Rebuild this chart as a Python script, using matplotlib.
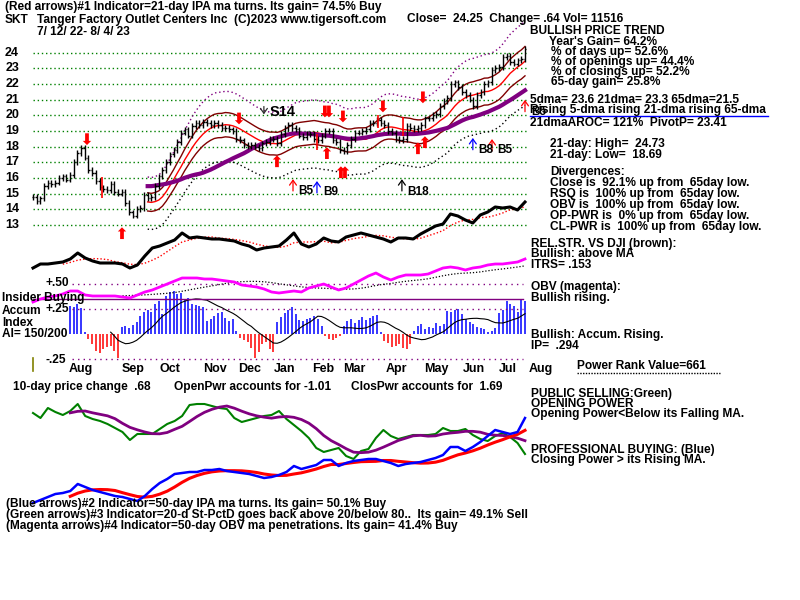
import numpy as np
import pandas as pd
import matplotlib
matplotlib.use("Agg")
import matplotlib.pyplot as plt
from matplotlib.lines import Line2D

nan = np.nan

# SKT closes, one every ~2 trading days, 7/12/22 - 8/4/23
close = [
    14.77, 14.5, 14.7, 15.5, 15.7, 15.6, 15.7, 16.0, 16.1, 15.9,
    16.2, 17.0, 17.6, 17.9, 17.3, 16.5, 16.3, 15.8, 15.4, 15.3,
    15.2, 15.6, 15.1, 15.0, 15.1, 14.4, 13.8, 13.6, 14.0, 14.1,
    14.9, 14.7, 14.8, 15.5, 16.1, 16.5, 17.0, 17.5, 17.8, 18.3,
    18.9, 19.1, 18.7, 19.3, 19.5, 19.4, 19.6, 19.5, 19.4, 19.5,
    19.4, 19.2, 19.2, 19.1, 19.0, 18.5, 18.4, 18.1, 18.0, 18.1,
    18.0, 17.9, 18.2, 18.3, 18.5, 18.5, 18.2, 18.8, 19.2, 19.4,
    19.2, 19.1, 18.7, 18.6, 18.8, 18.8, 18.5, 18.4, 18.7, 19.0,
    19.0, 18.4, 18.3, 17.8, 17.7, 18.1, 18.5, 18.9, 18.9, 19.0,
    19.1, 19.5, 19.5, 19.7, 19.5, 19.4, 19.0, 18.9, 18.5, 18.4,
    18.5, 19.3, 19.2, 19.1, 19.2, 19.4, 19.8, 19.8, 20.0, 20.1,
    20.6, 20.9, 21.1, 22.0, 22.1, 21.8, 21.5, 21.3, 21.0, 20.6,
    21.3, 21.5, 22.0, 22.1, 22.9, 23.0, 23.1, 23.7, 23.8, 23.4,
    23.3, 23.5, 23.6, 24.25,
]

# accumulation index, same spacing as close
ai = [
    nan, nan, nan, nan, nan, nan, nan, nan, nan, nan,
    0.28, 0.27, 0.30, 0.26, 0.02, -0.05, -0.10, -0.17, -0.19, -0.15,
    -0.13, -0.12, -0.17, -0.24, 0.07, 0.08, 0.06, 0.09, 0.12, 0.18,
    0.22, 0.24, 0.22, 0.30, 0.33, 0.20, 0.38, 0.42, 0.43, 0.40,
    0.41, 0.35, 0.36, 0.30, 0.29, 0.28, 0.27, 0.13, 0.15, 0.18,
    0.21, 0.22, 0.16, 0.13, 0.15, 0.03, -0.04, -0.06, -0.08, -0.14,
    -0.24, -0.18, -0.10, -0.08, -0.15, -0.18, 0.12, 0.17, 0.21, 0.24,
    0.27, 0.20, 0.14, 0.13, 0.15, 0.16, 0.18, 0.15, 0.08, -0.02,
    -0.05, -0.06, -0.04, -0.02, 0.08, 0.13, 0.15, 0.11, 0.14, 0.17,
    0.14, 0.16, 0.18, 0.19, 0.02, -0.07, -0.09, -0.13, -0.12, -0.10,
    -0.14, -0.15, -0.10, 0.03, 0.08, 0.10, 0.05, 0.07, 0.06, 0.11,
    0.08, 0.10, 0.23, 0.22, 0.24, 0.25, 0.20, 0.15, 0.12, 0.10,
    0.07, 0.06, 0.05, 0.02, 0.03, 0.06, 0.21, 0.24, 0.33, 0.30,
    0.28, 0.22, 0.34, 0.33,
]

# weekly-ish indicator lines (one every ~4 trading days), chart units
rel_str = [
    12, 16, 16, 17, 18, 21, 27, 22, 19, 17, 17, 17, 16, 12, 15, 24, 32, 34, 37, 40,
    47, 42, 43, 42, 41, 41, 40, 39, 36, 34, 30, 32, 33, 34, 40, 47, 36, 33, 36, 42,
    39, 38, 43, 45, 47, 45, 43, 41, 38, 42, 42, 41, 46, 50, 54, 56, 66, 64, 60, 57,
    65, 68, 73, 72, 73, 70, 78,
]
obv = [
    8, 11, 13, 14, 16, 19, 19, 15, 14, 14, 14, 14, 13, 12, 15, 18, 20, 23, 26, 29,
    32, 32, 32, 31, 31, 30, 29, 28, 25, 24, 23, 21, 18, 17, 18, 19, 18, 22, 24, 26,
    23, 20, 22, 26, 30, 34, 37, 33, 30, 33, 35, 35, 35, 36, 39, 42, 43, 42, 40, 42,
    43, 45, 46, 46, 47, 48, 51,
]
open_power = [
    107, 102, 112, 108, 105, 109, 116, 104, 101, 99, 96, 92, 88, 80, 86, 86, 86, 91, 96, 99,
    104, 115, 116, 116, 114, 112, 111, 102, 98, 100, 102, 104, 105, 109, 101, 95, 89, 82, 72, 68,
    70, 72, 64, 61, 69, 71, 82, 90, 84, 81, 83, 85, 85, 85, 86, 92, 89, 89, 91, 85,
    81, 79, 84, 87, 83, 77, 66,
]
close_power = [
    17, 20, 23, 26, 27, 29, 36, 33, 30, 28, 26, 24, 23, 21, 19, 24, 31, 37, 41, 46,
    47, 48, 48, 50, 50, 51, 49, 48, 47, 46, 44, 42, 43, 45, 48, 54, 51, 53, 55, 60,
    60, 54, 57, 59, 60, 61, 61, 59, 57, 54, 56, 57, 58, 60, 62, 65, 73, 73, 69, 73,
    78, 84, 90, 88, 86, 88, 102,
]

last_day = 267
months = ["Aug", "Sep", "Oct", "Nov", "Dec", "Jan", "Feb", "Mar", "Apr", "May", "Jun", "Jul", "Aug"]
month_label_day = [19.5, 48.3, 68.4, 92.3, 111.2, 130.8, 151.4, 168.2, 191.5, 212.1, 233.2, 252.8, 269.1]

# signals (trading day, price at arrow tip)
sell_days = [29.3, 111.8, 158.4, 160.6, 168.2, 189.9, 211.6]
sell_tips = [18.1, 19.42, 19.87, 19.87, 19.55, 20.19, 20.77]
buy_days = [48.3, 132.4, 159.5, 167.1, 169.3, 208.9, 212.7]
buy_tips = [12.85, 17.44, 17.96, 16.74, 16.74, 18.27, 18.66]
mark_days = [37.4, 154.1, 187.2, 200.8]
mark_top = [16.04, 18.8, 20.0, 19.9]
mark_bot = [14.7, 17.8, 19.2, 18.7]
tag_days = [125.3, 141.1, 154.1, 200.2, 238.7, 249.1, 267.0]
tag_tips = [20.06, 15.92, 15.8, 15.92, 18.55, 18.48, 20.98]
tag_up = [False, True, True, True, True, True, True]
tag_colors = ["#303030", "red", "blue", "black", "blue", "red", "red"]

FONT = "Liberation Sans"
FS = 8.6

W, H = 800, 600
fig = plt.figure(figsize=(8, 6), dpi=100)
fig.patch.set_facecolor("white")

XL = (-3 / 1.843, last_day + 3 / 1.843)


def box(y0, y1, ylim, x0=30, x1=528):
    ax = fig.add_axes([x0 / W, 1 - y1 / H, (x1 - x0) / W, (y1 - y0) / H])
    ax.set_xlim(*XL)
    ax.set_ylim(*ylim)
    ax.set_axis_off()
    ax.patch.set_alpha(0)
    return ax


def txt(x, y, s, size=FS, color="black"):
    fig.text(x / W, 1 - (y - 2) / H, s, fontsize=size, fontweight="bold",
             family=FONT, color=color, va="top", ha="left")


def hline_px(x0, x1, y, **kw):
    fig.add_artist(Line2D([x0 / W, x1 / W], [1 - y / H, 1 - y / H], **kw))


d_px = np.linspace(0, last_day, len(close))
d_wk = np.linspace(0, last_day, len(rel_str))

# ---------------- price panel ----------------
ax = box(15, 240, (12.04, 26.40))
for p in range(13, 25):
    ax.axhline(p, xmin=3 / 498, xmax=1, color="#008000", ls=(0, (1, 2)), lw=1)
    ax.text(-0.022, p, str(p), transform=ax.get_yaxis_transform(), ha="right", va="center",
            fontsize=9, fontweight="bold", family=FONT)

c = pd.Series(close)
ma21 = c.rolling(10).mean()
ma65 = c.rolling(32).mean()
ma21[:31] = nan
ax.plot(d_px, ma21 * 1.11, color="#800080", ls=(0, (1, 2)), lw=1)
ax.plot(d_px, ma21 * 0.88, color="black", ls=(0, (1, 2)), lw=1)
ax.plot(d_px, ma21 * 1.04, color="#800000", lw=1)
ax.plot(d_px, ma21 * 0.96, color="#800000", lw=1)
ax.plot(d_px, ma21, color="red", lw=1)
ax.plot(d_px, ma65, color="#800080", lw=3)

o = np.r_[close[0], close[:-1]]
cl = np.array(close)
hi = np.maximum(o, cl) + 0.18
lo = np.minimum(o, cl) - 0.18
ax.vlines(d_px, lo, hi, color="black", lw=1)
ax.hlines(o, d_px - 0.8, d_px, color="black", lw=1)
ax.hlines(cl, d_px, d_px + 0.8, color="black", lw=1)

big = "simple,head_length=0.5,head_width=1.0,tail_width=0.45"
for x, t in zip(sell_days, sell_tips):
    ax.annotate("", xy=(x, t), xytext=(x, t + 0.75),
                arrowprops=dict(arrowstyle=big, color="red", lw=0, shrinkA=0, shrinkB=0, mutation_scale=6))
for x, t in zip(buy_days, buy_tips):
    ax.annotate("", xy=(x, t), xytext=(x, t - 0.75),
                arrowprops=dict(arrowstyle=big, color="red", lw=0, shrinkA=0, shrinkB=0, mutation_scale=6))
ax.vlines(mark_days, mark_bot, mark_top, color="red", lw=1.2)
for x, t, up, col in zip(tag_days, tag_tips, tag_up, tag_colors):
    tail = t - 0.75 if up else t + 0.5
    ax.annotate("", xy=(x, t), xytext=(x, tail),
                arrowprops=dict(arrowstyle="->,head_length=0.35,head_width=0.25", color=col, lw=0.9,
                                shrinkA=0, shrinkB=0, mutation_scale=10))

# relative strength vs DJI
ax_rs = box(190, 280, (0, 90))
rs = pd.Series(rel_str, dtype=float)
ax_rs.plot(d_wk, rs.rolling(5).mean(), color="red", ls=(0, (1, 1.5)), lw=1)
ax_rs.plot(d_wk, rs, color="black", lw=2.2)

# ---------------- accumulation index / OBV ----------------
ax_ai = box(250, 362, (-0.277, 0.832))
a = np.array(ai)
pos = np.where(a > 0, a, nan)
neg = np.where(a < 0, a, nan)
ax_ai.vlines(d_px, 0, pos, color="blue", lw=1.1)
ax_ai.vlines(d_px, neg, 0, color="red", lw=1.1)
ax_ai.plot(d_px, pd.Series(ai).rolling(12).mean(), color="black", lw=0.8)
for v in (0.5, 0.25, -0.25):
    ax_ai.axhline(v, xmin=42 / 498, xmax=0.99, color="#800080", ls=(0, (1, 3)), lw=1)
ax_ai.axhline(0.35, xmin=3 / 498, xmax=0.99, color="#800080", lw=1)
ax_ai.plot([-0.2, -0.2], [-0.238, -0.366], color="#808000", lw=1.2, clip_on=False)
for m, dd in zip(months, month_label_day):
    ax_ai.text(dd, -0.01, m, transform=ax_ai.get_xaxis_transform(), ha="left", va="top",
               fontsize=9, fontweight="bold", family=FONT)

ax_obv = box(250, 362, (-52, 60))
ob = pd.Series(obv, dtype=float)
ax_obv.plot(d_wk, ob.rolling(13).mean(), color="black", ls=(0, (1, 1.5)), lw=0.9)
ax_obv.plot(d_wk, ob, color="#ff00ff", lw=2)

# ---------------- opening / closing power ----------------
ax_pw = box(380, 515, (5, 140))
op = pd.Series(open_power, dtype=float)
cp = pd.Series(close_power, dtype=float)
ax_pw.plot(d_wk, op, color="#008000", lw=1.5)
ax_pw.plot(d_wk, op.rolling(6).mean(), color="#800080", lw=2)
ax_pw.plot(d_wk, cp.rolling(6).mean(), color="red", lw=2.2)
ax_pw.plot(d_wk, cp, color="blue", lw=1.8)

# ---------------- text ----------------
txt(5, 3, "(Red arrows)#1 Indicator=21-day IPA ma turns. Its gain= 74.5% Buy")
txt(5, 16, "SKT")
txt(37, 16, "Tanger Factory Outlet Centers Inc  (C)2023 www.tigersoft.com")
txt(37, 28, "7/ 12/ 22- 8/ 4/ 23")
txt(407, 15, "Close=  24.25  Change= .64 Vol= 11516")

txt(270, 107, "S14", size=10.5)
txt(298, 187, "B5", size=8.5)
txt(323, 188, "B9", size=8.5)
txt(407, 188, "B18", size=8.5)
txt(478, 146, "B8", size=8.5)
txt(497, 146, "B5", size=8.5)
txt(531, 108, "B5", size=8.5)

right = [
    (530, 27, "BULLISH PRICE TREND"),
    (549, 38, "Year's Gain= 64.2%"),
    (551, 48, "% of days up= 52.6%"),
    (551, 58, "% of openings up= 44.4%"),
    (551, 68, "% of closings up= 52.2%"),
    (551, 78, "65-day gain= 25.8%"),
    (530, 96, "5dma= 23.6 21dma= 23.3 65dma=21.5"),
    (530, 106, "Rising 5-dma rising 21-dma rising 65-dma"),
    (530, 119, "21dmaAROC= 121%  PivotP= 23.41"),
    (550, 140, "21-day: High=  24.73"),
    (550, 151, "21-day: Low=  18.69"),
    (550, 168, "Divergences:"),
    (550, 179, "Close is  92.1% up from  65day low."),
    (550, 190, "RSQ is  100% up from  65day low."),
    (550, 201, "OBV is  100% up from  65day low."),
    (550, 212, "OP-PWR is  0% up from  65day low."),
    (550, 223, "CL-PWR is  100% up from  65day low."),
    (531, 240, "REL.STR. VS DJI (brown):"),
    (531, 250, "Bullish: above MA"),
    (531, 261, "ITRS= .153"),
    (531, 283, "OBV (magenta):"),
    (531, 294, "Bullish rising."),
    (531, 331, "Bullish: Accum. Rising."),
    (531, 342, "IP=  .294"),
    (577, 362, "Power Rank Value=661"),
    (531, 390, "PUBLIC SELLING:Green)"),
    (531, 400, "OPENING POWER"),
    (531, 410, "Opening Power<Below its Falling MA."),
    (531, 446, "PROFESSIONAL BUYING: (Blue)"),
    (531, 456, "Closing Power > its Rising MA."),
]
for x, y, s in right:
    txt(x, y, s)
hline_px(530, 768, 115.5, color="blue", lw=1)
hline_px(577, 720, 373, color="black", lw=1, ls=(0, (1, 1)))

txt(46, 279, "+.50")
txt(2, 294, "Insider Buying")
txt(46, 305, "+.25")
txt(2, 307, "Accum")
txt(2, 319, "Index")
txt(2, 330, "AI= 150/200")
txt(46, 356, "-.25")

txt(13, 383, "10-day price change  .68")
txt(174, 383, "OpenPwr accounts for -1.01")
txt(351, 383, "ClosPwr accounts for  1.69")

txt(6, 500, "(Blue arrows)#2 Indicator=50-day IPA ma turns. Its gain= 50.1% Buy")
txt(6, 511, "(Green arrows)#3 Indicator=20-d St-PctD goes back above 20/below 80..  Its gain= 49.1% Sell")
txt(6, 522, "(Magenta arrows)#4 Indicator=50-day OBV ma penetrations. Its gain= 41.4% Buy")

fig.savefig("out.png", dpi=100, facecolor="white")
